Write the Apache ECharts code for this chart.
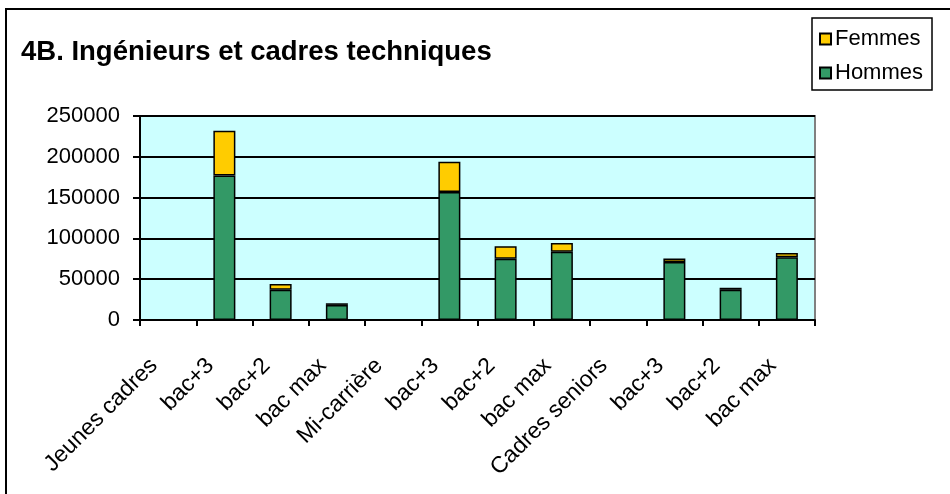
<!DOCTYPE html>
<html><head><meta charset="utf-8">
<script src="https://cdn.jsdelivr.net/npm/echarts@6/dist/echarts.min.js"></script>
<style>html,body{margin:0;padding:0;background:#fff}#c{width:950px;height:494px}</style>
</head><body><div id="c"></div>
<script>
const categories = ['Jeunes cadres','bac+3','bac+2','bac max','Mi-carrière','bac+3','bac+2','bac max','Cadres seniors','bac+3','bac+2','bac max'];
const hommes = [null,177000,37000,18500,null,157000,75000,83500,null,71000,37000,77000];
const femmes = [null,55000,7000,2000,null,37000,15500,11000,null,4500,2500,5000];
const yTicks = [0,50000,100000,150000,200000,250000];
const titleText = '4B. Ingénieurs et cadres techniques';

const chart = echarts.init(document.getElementById('c'));
const F = 'Liberation Sans, Arial, sans-serif';
chart.setOption({
  animation:false,
  backgroundColor:'#fff',
  textStyle:{fontFamily:F},
  title:{text:titleText,left:16,top:33,textStyle:{fontFamily:F,fontSize:27.5,fontWeight:'bold',color:'#000'}},
  legend:{data:['Femmes','Hommes'],orient:'vertical',left:812,top:18,
    borderColor:'#000',borderWidth:1.5,padding:[10,9,6,7],itemGap:12,itemWidth:11,itemHeight:11,
    icon:'rect',textStyle:{fontFamily:F,fontSize:22,color:'#000',padding:[0,0,0,-1]}},
  grid:{left:140,right:135,top:116,bottom:174,show:true,backgroundColor:'#ccffff',borderColor:'#808080',borderWidth:2},
  xAxis:{type:'category',data:categories,boundaryGap:true,
    axisLine:{lineStyle:{color:'#000',width:2}},
    axisTick:{show:true,alignWithLabel:false,length:6,lineStyle:{color:'#000',width:2}},
    axisLabel:{rotate:45,interval:0,fontSize:23,color:'#000',fontFamily:F,margin:28,padding:[0,20,0,0]}},
  yAxis:{type:'value',min:0,max:250000,interval:50000,
    axisLine:{show:true,lineStyle:{color:'#000',width:2}},
    axisTick:{show:true,length:7,lineStyle:{color:'#000',width:2}},
    splitLine:{show:true,lineStyle:{color:'#000',width:2}},
    axisLabel:{fontSize:22,color:'#000',fontFamily:F,margin:20,
      formatter:v=>yTicks.includes(v)?String(v):''}},
  series:[
    {name:'Hommes',type:'bar',stack:'t',data:hommes,barWidth:22,
      itemStyle:{color:'#339966',borderColor:'#000',borderWidth:1.5}},
    {name:'Femmes',type:'bar',stack:'t',data:femmes,barWidth:22,
      itemStyle:{color:'#ffcc00',borderColor:'#000',borderWidth:1.5}}
  ],
  graphic:[{type:'rect',shape:{x:6,y:9,width:1000,height:1000},style:{fill:'none',stroke:'#000',lineWidth:2},z:100}]
});
</script></body></html>
